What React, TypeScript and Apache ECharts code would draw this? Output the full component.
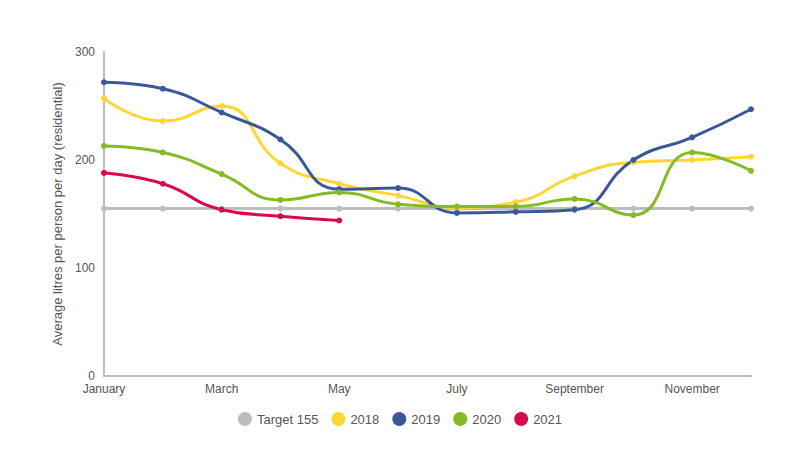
import React, { useEffect, useRef } from "react";
import * as echarts from "echarts";

const months = [
  "January", "February", "March", "April", "May", "June",
  "July", "August", "September", "October", "November", "December",
];

const target155 = [155, 155, 155, 155, 155, 155, 155, 155, 155, 155, 155, 155];
const y2018 = [257, 236, 250, 197, 178, 167, 156, 161, 185, 198, 200, 203];
const y2019 = [272, 266, 244, 219, 173, 174, 151, 152, 154, 200, 221, 247];
const y2020 = [213, 207, 187, 163, 170, 159, 157, 157, 164, 149, 207, 190];
const y2021 = [188, 178, 154, 148, 144];

const colors = {
  target: "#BDBDBD",
  y2018: "#FFD634",
  y2019: "#3A5899",
  y2020: "#85BB23",
  y2021: "#D60A50",
};

function lineSeries(name: string, data: number[], color: string) {
  return {
    name,
    type: "line",
    data,
    smooth: true,
    symbol: "circle",
    symbolSize: 6,
    showSymbol: true,
    itemStyle: { color },
    lineStyle: { color, width: 3 },
  };
}

export default function App() {
  const ref = useRef<HTMLDivElement>(null);

  useEffect(() => {
    if (!ref.current) return;
    const chart = echarts.init(ref.current, undefined, { renderer: "svg" });
    chart.setOption({
      animation: false,
      backgroundColor: "#ffffff",
      textStyle: { fontFamily: "Liberation Sans, Arial, sans-serif" },
      grid: { left: 104, right: 49, top: 52, bottom: 74, containLabel: false },
      legend: {
        bottom: 19,
        left: "center",
        icon: "circle",
        itemWidth: 14,
        itemHeight: 14,
        itemGap: 13,
        textStyle: { color: "#555", fontSize: 13 },
        data: ["Target 155", "2018", "2019", "2020", "2021"],
      },
      xAxis: {
        type: "category",
        data: months,
        boundaryGap: false,
        axisLine: { lineStyle: { color: "#BDBDBD", width: 2 } },
        axisTick: { show: false },
        axisLabel: { color: "#555", fontSize: 12, interval: 1, margin: 7 },
      },
      yAxis: {
        type: "value",
        min: 0,
        max: 300,
        interval: 100,
        name: "Average litres per person per day (residential)",
        nameLocation: "middle",
        nameGap: 40,
        nameTextStyle: { color: "#555", fontSize: 13 },
        axisLine: { show: true, lineStyle: { color: "#BDBDBD", width: 2 } },
        axisTick: { show: false },
        splitLine: { show: false },
        axisLabel: { color: "#555", fontSize: 12, margin: 9 },
      },
      series: [
        lineSeries("Target 155", target155, colors.target),
        lineSeries("2018", y2018, colors.y2018),
        lineSeries("2019", y2019, colors.y2019),
        lineSeries("2020", y2020, colors.y2020),
        lineSeries("2021", y2021, colors.y2021),
      ],
    });
    return () => chart.dispose();
  }, []);

  return (
    <div
      ref={ref}
      style={{ position: "absolute", left: 0, top: 0, width: 800, height: 450 }}
    />
  );
}
